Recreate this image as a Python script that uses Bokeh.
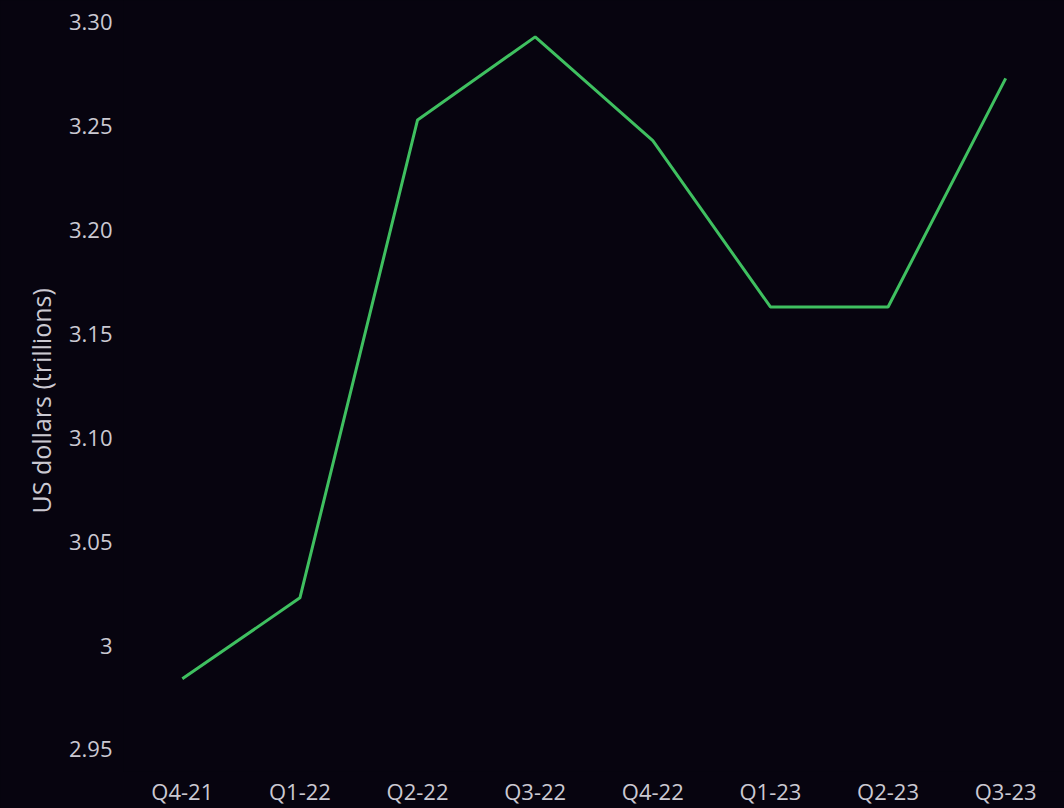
from bokeh.plotting import figure
from bokeh.models import FactorRange, Range1d, FixedTicker, Title
from bokeh.embed import file_html
from bokeh.resources import INLINE

# Quarterly values, US dollars (trillions)
quarters = ["Q4-21", "Q1-22", "Q2-22", "Q3-22", "Q4-22", "Q1-23", "Q2-23", "Q3-23"]
values = [2.984, 3.023, 3.253, 3.293, 3.243, 3.163, 3.163, 3.273]

# y-axis ticks and their labels
y_ticks = [2.95, 3.00, 3.05, 3.10, 3.15, 3.20, 3.25, 3.30]
y_tick_labels = ["2.95", "3", "3.05", "3.10", "3.15", "3.20", "3.25", "3.30"]

BG = "#07040f"
TEXT = "#cbc9d2"
LINE = "#3fc060"
FONT = "Open Sans"

p = figure(
    width=1064, height=808,
    x_range=FactorRange(factors=quarters, range_padding=0),
    y_range=Range1d(2.9394, 3.3105),
    output_backend="svg", toolbar_location=None,
    background_fill_color=BG, border_fill_color=BG,
    min_border_left=123, min_border_right=0,
    min_border_top=0, min_border_bottom=33,
)
p.outline_line_color = None
p.grid.visible = False

p.line(quarters, values, line_color=LINE, line_width=3)

p.yaxis.ticker = FixedTicker(ticks=y_ticks)
p.yaxis.major_label_overrides = {t: lab for t, lab in zip(y_ticks, y_tick_labels)}
p.yaxis.major_label_standoff = 11

# vertical axis title, anchored near the bottom of the frame
p.add_layout(Title(text="US dollars (trillions)", align="left", offset=258,
                   text_font=FONT, text_font_style="normal",
                   text_font_size="25px", text_color=TEXT, standoff=15), "left")

for ax in (p.xaxis, p.yaxis):
    ax.axis_line_color = None
    ax.major_tick_line_color = None
    ax.minor_tick_line_color = None
    ax.major_tick_out = 0
    ax.major_tick_in = 0
    ax.major_label_text_font = FONT
    ax.major_label_text_font_size = "22px"
    ax.major_label_text_color = TEXT

p.xaxis.major_label_standoff = 4

html = file_html(p, INLINE)
html = html.replace("<head>", "<head><style>html, body { background: %s; }</style>" % BG, 1)
open("out.html", "w").write(html)
